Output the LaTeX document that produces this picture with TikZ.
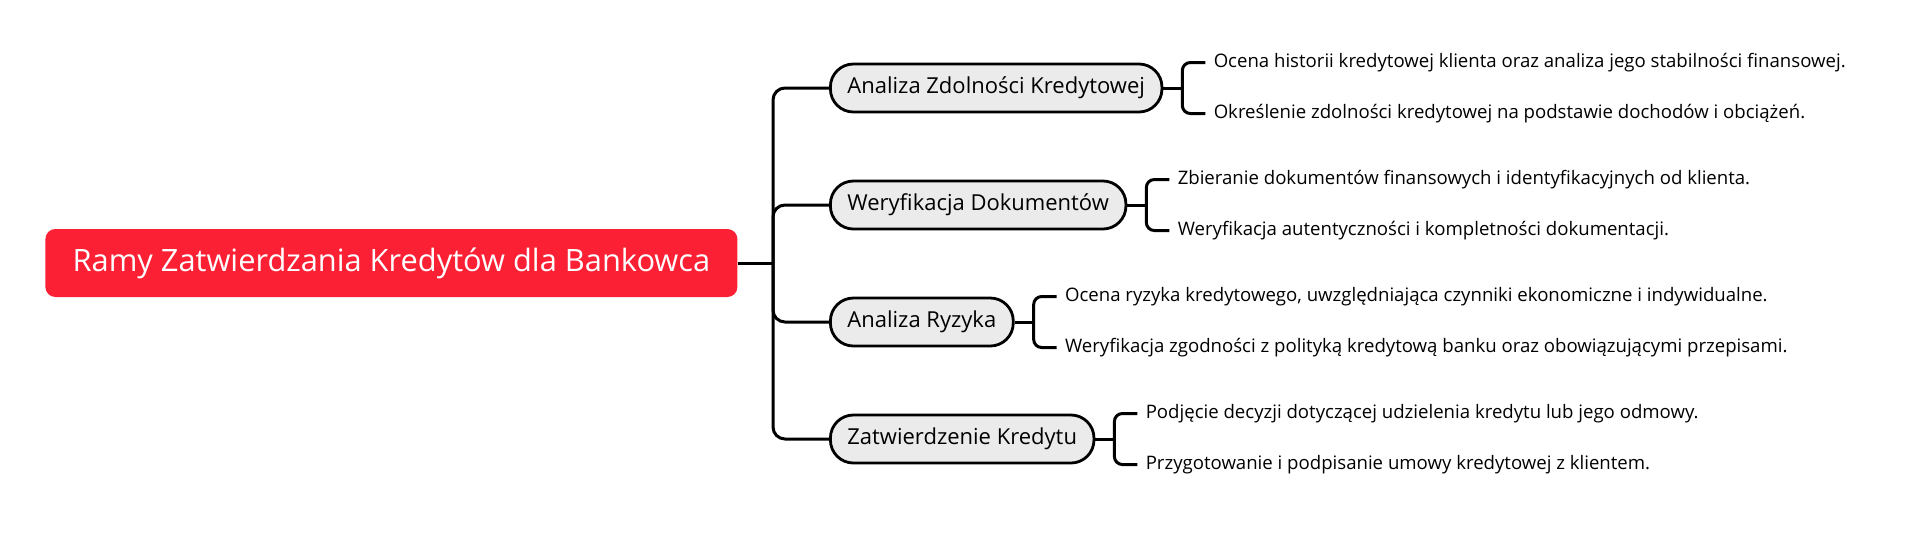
\documentclass[tikz,border=0pt]{standalone}
\usepackage{fontspec}
\setmainfont{Open Sans}
\usetikzlibrary{positioning}
\definecolor{rootred}{RGB}{252,32,52}
\definecolor{topicgray}{RGB}{235,235,235}
\tikzset{
	rootbox/.style={anchor=west,fill=rootred,text=white,rounded corners=5pt,minimum width=346pt,minimum height=34pt,font=\fontsize{15.4}{18}\selectfont},
	topic/.style={anchor=west,draw,line width=1.4pt,fill=topicgray,rounded corners=11.5pt,minimum height=24pt,inner xsep=8.5pt,font=\fontsize{11}{13}\selectfont},
	leaf/.style={inner sep=0pt,font=\fontsize{9.3}{11}\selectfont},
	link/.style={line width=1.5pt}
}
\begin{document}
\begin{tikzpicture}[x=0.5pt,y=-0.5pt]
	\useasboundingbox (0,0) rectangle (1908,543);

	\node [rootbox] (root) at (45,263) {Ramy Zatwierdzania Kredytów dla Bankowca};
	\coordinate (spine) at (773,263);

	\node [topic] (zdolnosc) at (829,88) {Analiza Zdolności Kredytowej};
	\node [topic] (dokumenty) at (829,205) {Weryfikacja Dokumentów};
	\node [topic] (ryzyko) at (829,322) {Analiza Ryzyka};
	\node [topic] (decyzja) at (829,439) {Zatwierdzenie Kredytu};

	\draw [link] (root) -- (spine);
	\draw [link,rounded corners=6pt] (zdolnosc.west) -| (spine) |- (decyzja.west);
	\draw [link,rounded corners=6pt] (spine) |- (dokumenty.west);
	\draw [link,rounded corners=6pt] (spine) |- (ryzyko.west);

	% Analiza Zdolnosci Kredytowej
	\coordinate [right=9.5pt of zdolnosc.east] (zdolnosc-b);
	\node [leaf,right=15.5pt of zdolnosc-b,yshift=12.75pt] (zdolnosc-1) {Ocena historii kredytowej klienta oraz analiza jego stabilności finansowej.};
	\node [leaf,right=15.5pt of zdolnosc-b,yshift=-12.75pt] (zdolnosc-2) {Określenie zdolności kredytowej na podstawie dochodów i obciążeń.};
	\draw [link] (zdolnosc.east) -- (zdolnosc-b);
	\draw [link,rounded corners=4pt] ([xshift=-4pt]zdolnosc-1.west) -| (zdolnosc-b) |- ([xshift=-4pt]zdolnosc-2.west);

	% Weryfikacja Dokumentow
	\coordinate [right=9.5pt of dokumenty.east] (dokumenty-b);
	\node [leaf,right=15.5pt of dokumenty-b,yshift=12.75pt] (dokumenty-1) {Zbieranie dokumentów finansowych i identyfikacyjnych od klienta.};
	\node [leaf,right=15.5pt of dokumenty-b,yshift=-12.75pt] (dokumenty-2) {Weryfikacja autentyczności i kompletności dokumentacji.};
	\draw [link] (dokumenty.east) -- (dokumenty-b);
	\draw [link,rounded corners=4pt] ([xshift=-4pt]dokumenty-1.west) -| (dokumenty-b) |- ([xshift=-4pt]dokumenty-2.west);

	% Analiza Ryzyka
	\coordinate [right=9.5pt of ryzyko.east] (ryzyko-b);
	\node [leaf,right=15.5pt of ryzyko-b,yshift=12.75pt] (ryzyko-1) {Ocena ryzyka kredytowego, uwzględniająca czynniki ekonomiczne i indywidualne.};
	\node [leaf,right=15.5pt of ryzyko-b,yshift=-12.75pt] (ryzyko-2) {Weryfikacja zgodności z polityką kredytową banku oraz obowiązującymi przepisami.};
	\draw [link] (ryzyko.east) -- (ryzyko-b);
	\draw [link,rounded corners=4pt] ([xshift=-4pt]ryzyko-1.west) -| (ryzyko-b) |- ([xshift=-4pt]ryzyko-2.west);

	% Zatwierdzenie Kredytu
	\coordinate [right=9.5pt of decyzja.east] (decyzja-b);
	\node [leaf,right=15.5pt of decyzja-b,yshift=12.75pt] (decyzja-1) {Podjęcie decyzji dotyczącej udzielenia kredytu lub jego odmowy.};
	\node [leaf,right=15.5pt of decyzja-b,yshift=-12.75pt] (decyzja-2) {Przygotowanie i podpisanie umowy kredytowej z klientem.};
	\draw [link] (decyzja.east) -- (decyzja-b);
	\draw [link,rounded corners=4pt] ([xshift=-4pt]decyzja-1.west) -| (decyzja-b) |- ([xshift=-4pt]decyzja-2.west);
\end{tikzpicture}
\end{document}
